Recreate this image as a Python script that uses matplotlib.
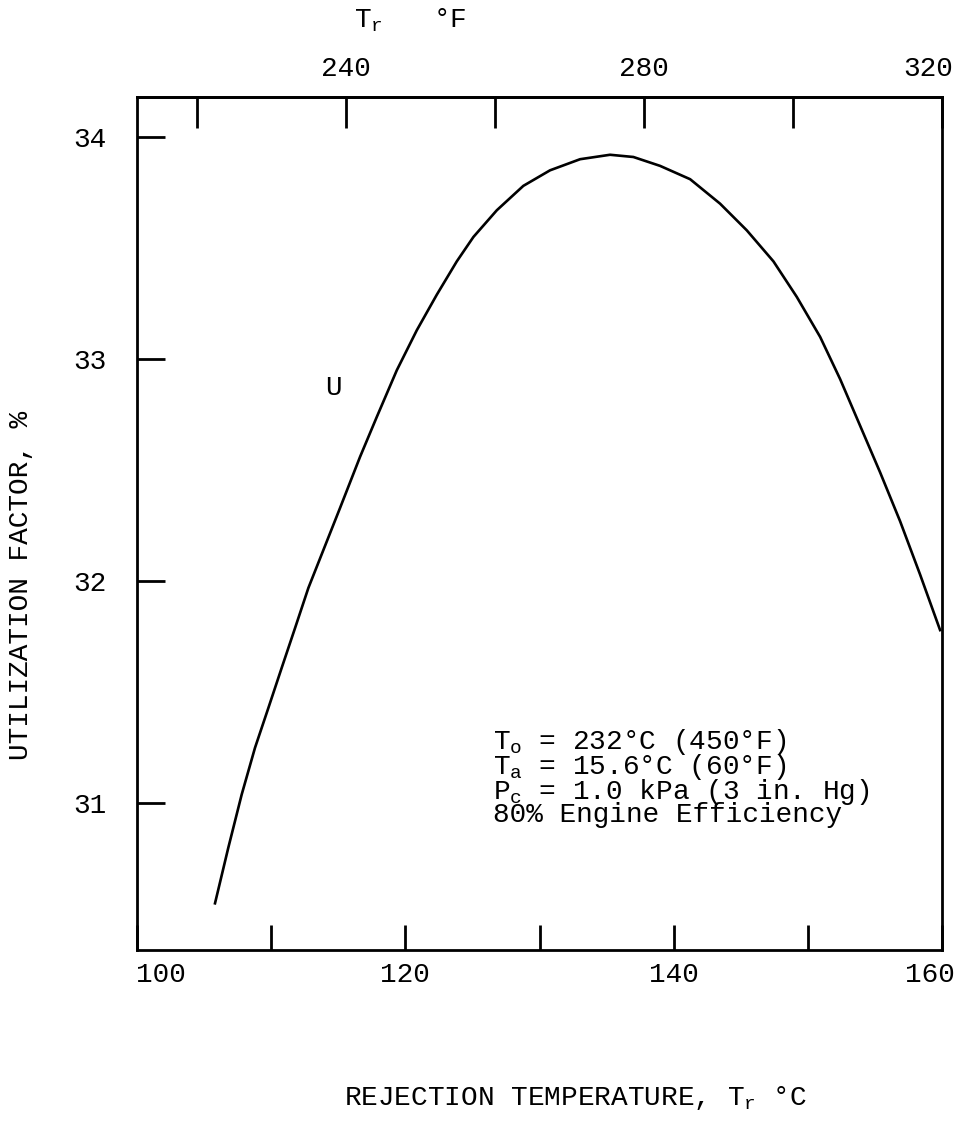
import numpy as np
import matplotlib
matplotlib.use("Agg")
import matplotlib.pyplot as plt
import matplotlib.transforms as mtransforms


# ==================================================
# data
# ==================================================

temp_c = [105.81, 106.80, 107.80, 108.79, 109.79, 110.78, 111.78, 112.77,
          115.13, 116.62, 117.87, 119.36, 120.85, 122.34, 123.83, 125.07,
          126.81, 128.79, 130.78, 133.02, 135.25, 136.99, 138.98, 141.22,
          143.45, 145.44, 147.43, 149.17, 150.91, 152.40, 153.89, 155.38,
          156.87, 158.36, 159.85]

util = [30.55, 30.80, 31.04, 31.25, 31.43, 31.61, 31.79, 31.97,
        32.33, 32.56, 32.74, 32.95, 33.13, 33.29, 33.44, 33.55,
        33.67, 33.78, 33.85, 33.90, 33.92, 33.91, 33.87, 33.81,
        33.70, 33.58, 33.44, 33.28, 33.10, 32.91, 32.70, 32.49,
        32.27, 32.03, 31.78]

c_ticks = [100, 110, 120, 130, 140, 150, 160]
c_labels = ["100", "", "120", "", "140", "", "160"]

f_ticks = [220, 240, 260, 280, 300, 320]
f_labels = ["", "240", "", "280", "", "320"]

u_ticks = [31, 32, 33, 34]
u_labels = ["31", "32", "33", "34"]

notes = [
    r"T$_{\rm o}$ = 232°C (450°F)",
    r"T$_{\rm a}$ = 15.6°C (60°F)",
    r"P$_{\rm c}$ = 1.0 kPa (3 in. Hg)",
    "80% Engine Efficiency",
]


# ==================================================
# style
# ==================================================

plt.rcParams["font.family"] = ["Liberation Mono", "DejaVu Sans Mono"]
plt.rcParams["mathtext.fontset"] = "custom"
plt.rcParams["mathtext.rm"] = "Liberation Mono"
plt.rcParams["mathtext.it"] = "Liberation Mono"

fs = 20


def c2f(c):
    return np.asarray(c) * 9.0 / 5.0 + 32.0


def f2c(f):
    return (np.asarray(f) - 32.0) * 5.0 / 9.0


def shift(lab, dx):
    lab.set_transform(lab.get_transform() +
                      mtransforms.ScaledTranslation(dx / 100.0, 0,
                                                    fig.dpi_scale_trans))


fig = plt.figure(figsize=(9.55, 11.4), dpi=100)
ax = fig.add_axes([0.1435, 0.1667, 0.843, 0.7482])

ax.plot(temp_c, util, color="black", lw=1.9, solid_joinstyle="round")

ax.set_xlim(100, 160)
ax.set_ylim(30.34, 34.18)

for s in ax.spines.values():
    s.set_linewidth(2.0)

ax.set_xticks(c_ticks)
ax.set_xticklabels(c_labels)
ax.set_yticks(u_ticks)
ax.set_yticklabels(u_labels)

ax.tick_params(axis="x", direction="in", length=18, width=2.0,
               labelsize=fs, pad=9)
ax.tick_params(axis="y", direction="in", length=20, width=2.0,
               labelsize=fs, pad=22)

# edge labels sit inward in the original
xl = ax.get_xticklabels()
shift(xl[0], 24)
shift(xl[-1], -12)

top = ax.secondary_xaxis("top", functions=(c2f, f2c))
top.set_xticks(f_ticks)
top.set_xticklabels(f_labels)
top.tick_params(axis="x", direction="in", length=22, width=2.0,
                labelsize=fs, pad=11)
top.spines["top"].set_linewidth(2.0)
shift(top.get_xticklabels()[-1], -14)

ax.set_xlabel(r"REJECTION TEMPERATURE, T$_{\rm r}$ °C", fontsize=fs)
ax.xaxis.set_label_coords(0.545, -0.157)
ax.set_ylabel("UTILIZATION FACTOR, %", fontsize=fs)
ax.yaxis.set_label_coords(-0.128, 0.427)

fig.text(0.43, 0.982, r"T$_{\rm r}$   °F", fontsize=fs,
         ha="center", va="center")

ax.text(114.6, 32.87, "U", fontsize=fs, ha="center", va="center")

# conditions block, one text so the tight lines stay together
ax.text(126.53, 31.342, "\n".join(notes), fontsize=fs, ha="left", va="top",
        linespacing=0.76)

fig.savefig("out.png", dpi=100)
